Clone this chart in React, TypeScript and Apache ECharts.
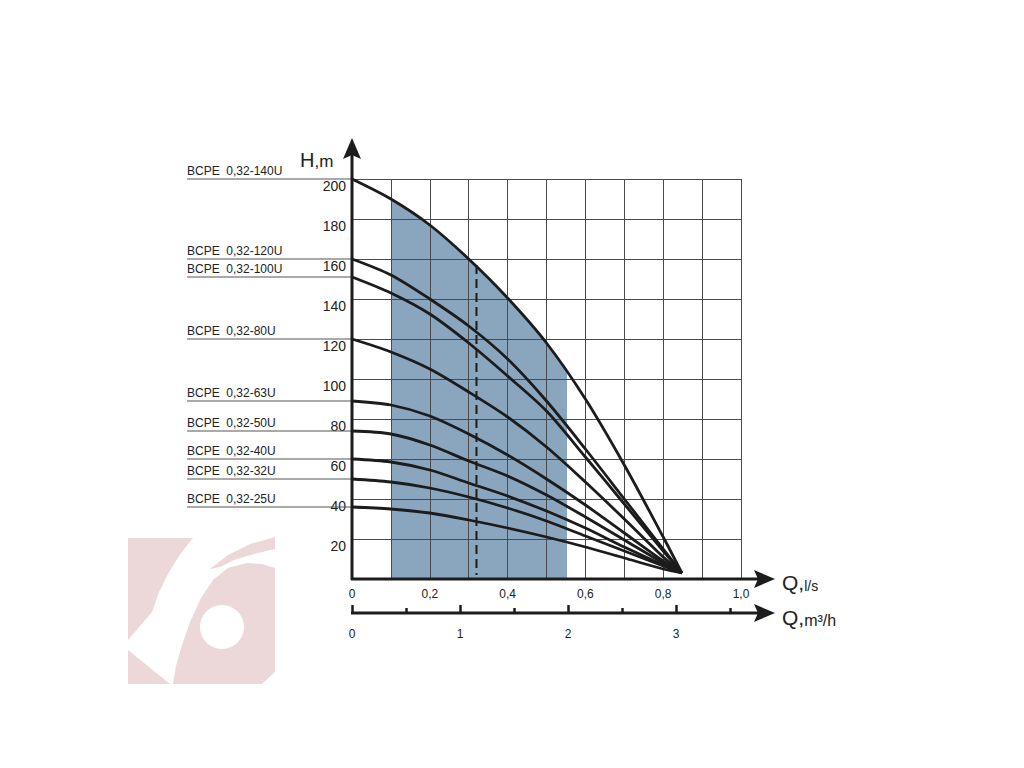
import React, { useEffect, useRef } from 'react';
import * as echarts from 'echarts';

// Flow Q, l/s
const qLs = [0, 0.1, 0.2, 0.3, 0.4, 0.5, 0.6, 0.7, 0.8, 0.848];
// Head H, m for each pump model
const h140 = [200, 190, 177, 160, 140.5, 118, 90, 57, 21, 3];
const h120 = [160, 152, 140, 126.5, 110, 89, 65, 40, 15, 3];
const h100 = [151, 143, 132.5, 118, 101.5, 84, 61, 37.5, 14, 3];
const h80 = [120, 113.5, 105, 93.5, 81, 66, 48.5, 30, 11, 3];
const h63 = [89, 87, 81.5, 72.5, 62, 50, 37, 23, 9, 3];
const h50 = [74, 72.5, 67, 59, 51.5, 42, 31, 19.5, 8, 3];
const h40 = [60, 58.5, 54.5, 48, 41.5, 34, 25.5, 16, 7, 3];
const h32 = [50, 48.5, 45.5, 41, 35.5, 29, 21.5, 14, 6.5, 3];
const h25 = [36, 35, 33, 29.5, 25.5, 21, 16, 10.5, 5, 3];

const modelNames = [
  'BCPE  0,32-140U',
  'BCPE  0,32-120U',
  'BCPE  0,32-100U',
  'BCPE  0,32-80U',
  'BCPE  0,32-63U',
  'BCPE  0,32-50U',
  'BCPE  0,32-40U',
  'BCPE  0,32-32U',
  'BCPE  0,32-25U',
];
const modelHeads = [h140, h120, h100, h80, h63, h50, h40, h32, h25];

// Working range (l/s) and nominal point
const workRange = [0.1, 0.553];
const nominalQ = 0.32;
const nominalH = [157, 2];

// m3/h axis
const m3hMax = 3.6;
const m3hMajor = [0, 1, 2, 3];
const m3hMinor = [0.5, 1.5, 2.5, 3.5];

const FONT = 'Liberation Sans, Arial, Helvetica, sans-serif';
const INK = '#1c1c1c';
const GRIDC = '#4a4a4a';

export default function App() {
  const ref = useRef<HTMLDivElement>(null);

  useEffect(() => {
    const chart = echarts.init(ref.current as HTMLDivElement, null, { renderer: 'svg' });

    const curveSeries = modelHeads.map((hs, i) => ({
      name: modelNames[i],
      type: 'line',
      xAxisIndex: 0,
      yAxisIndex: 0,
      smooth: 0.3,
      showSymbol: false,
      z: 5,
      lineStyle: { color: INK, width: 2.8 },
      data: qLs.map((q, k) => [q, hs[k]]),
    }));

    const option: any = {
      animation: false,
      textStyle: { fontFamily: FONT },
      grid: [
        { left: 352, top: 179, width: 389, height: 400 },
        { left: 352, top: 560, width: 389, height: 53 },
      ],
      xAxis: [
        {
          type: 'value',
          gridIndex: 0,
          position: 'bottom',
          min: 0,
          max: 1,
          interval: 0.1,
          z: 4,
          axisLine: { show: false },
          axisTick: { show: false },
          splitLine: { show: true, lineStyle: { color: GRIDC, width: 1 } },
          axisLabel: {
            fontSize: 12,
            color: '#222',
            margin: 9,
            formatter: (v: number) => {
              const t = Math.round(v * 10);
              if (t % 2 !== 0) return '';
              if (t === 0) return '0';
              return (t / 10).toFixed(1).replace('.', ',');
            },
          },
        },
        {
          type: 'value',
          gridIndex: 1,
          position: 'bottom',
          min: 0,
          max: m3hMax,
          axisLine: { show: false },
          splitLine: { show: false },
          axisTick: {
            show: true,
            inside: true,
            length: 8,
            customValues: m3hMajor,
            lineStyle: { color: INK, width: 2.5 },
          },
          axisLabel: {
            fontSize: 12,
            color: '#222',
            margin: 15,
            customValues: m3hMajor,
            formatter: (v: number) => String(v),
          },
        },
        {
          type: 'value',
          gridIndex: 1,
          position: 'bottom',
          offset: 0,
          min: 0,
          max: m3hMax,
          axisLine: { show: false },
          splitLine: { show: false },
          axisTick: {
            show: true,
            inside: true,
            length: 5,
            customValues: m3hMinor,
            lineStyle: { color: INK, width: 2.5 },
          },
          axisLabel: { show: false },
        },
      ],
      yAxis: [
        {
          type: 'value',
          gridIndex: 0,
          min: 0,
          max: 200,
          interval: 20,
          z: 4,
          axisLine: { show: false },
          axisTick: { show: false },
          splitLine: { show: true, lineStyle: { color: GRIDC, width: 1 } },
          axisLabel: {
            fontSize: 14,
            color: '#222',
            margin: 6,
            verticalAlign: 'top',
            formatter: (v: number) => (v === 0 ? '' : String(v)),
          },
        },
        { type: 'value', gridIndex: 1, min: 0, max: 1, show: false },
      ],
      visualMap: [
        {
          show: false,
          type: 'piecewise',
          seriesIndex: 0,
          dimension: 0,
          pieces: [{ gte: workRange[0], lte: workRange[1], color: '#8aa6bf' }],
          outOfRange: { color: 'rgba(138,166,191,0)' },
        },
      ],
      series: [
        {
          name: 'area',
          type: 'line',
          xAxisIndex: 0,
          yAxisIndex: 0,
          smooth: 0.3,
          showSymbol: false,
          z: 0,
          lineStyle: { width: 0, opacity: 0 },
          areaStyle: { opacity: 1 },
          data: qLs.map((q, k) => [q, h140[k]]),
        },
        ...curveSeries,
        {
          name: 'nominal',
          type: 'line',
          xAxisIndex: 0,
          yAxisIndex: 0,
          showSymbol: false,
          z: 4,
          lineStyle: { color: INK, width: 2, type: [9, 5] },
          data: [
            [nominalQ, nominalH[0]],
            [nominalQ, nominalH[1]],
          ],
        },
      ],
    };

    chart.setOption(option);

    const p = (q: number, h: number) => chart.convertToPixel({ gridIndex: 0 } as any, [q, h]) as number[];
    const p2 = (v: number) => chart.convertToPixel({ gridIndex: 1 } as any, [v, 0]) as number[];

    const o = p(0, 0);
    const top = p(0, 200);
    const right = p(1, 0);
    const o2 = p2(0);

    const els: any[] = [];
    const logoColor = '#ecd8d8';
    // watermark logo
    els.push(
      { type: 'polygon', z: 0, shape: { points: [[128, 538], [193, 538], [181, 553], [169, 572], [159, 592], [152, 612], [128, 640]] }, style: { fill: logoColor } },
      { type: 'polygon', z: 0, shape: { points: [[128, 650], [128, 684], [170, 684]] }, style: { fill: logoColor } },
      { type: 'polygon', z: 0, shape: { points: [[173, 684], [176, 666], [182, 645], [190, 622], [201, 598], [213, 580], [228, 568], [247, 563], [262, 564], [275, 568], [275, 672], [262, 684]] }, style: { fill: logoColor } },
      { type: 'polygon', z: 0, shape: { points: [[210, 569], [228, 555], [250, 544], [275, 537], [275, 549], [254, 554], [234, 560], [220, 567]] }, style: { fill: logoColor } },
      { type: 'circle', z: 1, shape: { cx: 222, cy: 627, r: 22 }, style: { fill: '#fff' } }
    );

    // y axis line + arrow
    const yTip = top[1] - 41;
    els.push(
      { type: 'line', z: 10, shape: { x1: o[0], y1: o[1] + 1, x2: o[0], y2: yTip + 14 }, style: { stroke: INK, lineWidth: 3 } },
      { type: 'polygon', z: 10, shape: { points: [[o[0], yTip], [o[0] + 9, yTip + 21], [o[0], yTip + 17], [o[0] - 9, yTip + 21]] }, style: { fill: INK } }
    );
    // x axes (l/s and m3/h) lines + arrows
    const xTip = right[0] + 34;
    const axisArrow = (y: number) => [
      { type: 'line', z: 10, shape: { x1: o[0] - 1, y1: y, x2: xTip - 14, y2: y }, style: { stroke: INK, lineWidth: 3 } },
      { type: 'polygon', z: 10, shape: { points: [[xTip, y], [xTip - 21, y - 9], [xTip - 17, y], [xTip - 21, y + 9]] }, style: { fill: INK } },
    ];
    els.push(...axisArrow(o[1]));
    els.push(...axisArrow(o2[1]));

    // axis titles
    const tok = (size: number) => ({ fontSize: size, fontFamily: FONT, fill: '#222', lineHeight: 24, verticalAlign: 'bottom' });
    els.push(
      {
        type: 'text', z: 10, x: top[0] - 52, y: top[1] - 9,
        style: { text: '{a|H}{b|,m}', verticalAlign: 'bottom', fill: '#222', rich: { a: tok(20), b: tok(17) } },
      },
      {
        type: 'text', z: 10, x: xTip + 7, y: o[1] + 14,
        style: { text: '{a|Q,}{b|l/s}', verticalAlign: 'bottom', fill: '#222', rich: { a: tok(21), b: tok(14) } },
      },
      {
        type: 'text', z: 10, x: xTip + 7, y: o2[1] + 15,
        style: { text: '{a|Q,}{b|m³/h}', verticalAlign: 'bottom', fill: '#222', rich: { a: tok(21), b: tok(16) } },
      }
    );

    // model labels with leader lines to the curve start
    modelHeads.forEach((hs, i) => {
      const s = p(0, hs[0]);
      els.push(
        { type: 'line', z: 6, shape: { x1: 187, y1: s[1], x2: s[0], y2: s[1] }, style: { stroke: '#555', lineWidth: 1 } },
        { type: 'text', z: 6, x: 187, y: s[1] - 2, style: { text: modelNames[i], fontSize: 12, fontFamily: FONT, fill: '#222', verticalAlign: 'bottom' } }
      );
    });

    chart.setOption({ graphic: els });

    return () => chart.dispose();
  }, []);

  return (
    <div
      ref={ref}
      style={{ position: 'fixed', left: 0, top: 0, width: 1024, height: 768, background: '#fff' }}
    />
  );
}
